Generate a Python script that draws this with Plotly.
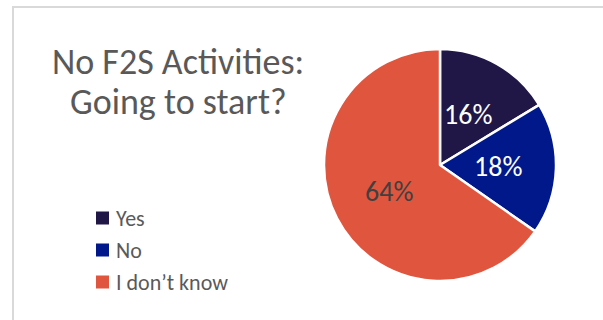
import math
import plotly.graph_objects as go

# Survey responses
labels = ["Yes", "No", "I don\u2019t know"]
values = [16, 18, 64]
colors = ["#201747", "#00188A", "#E0553E"]
label_colors = ["#FFFFFF", "#FFFFFF", "#404040"]

title_lines = ["No F2S Activities:", "Going to start?"]

W, H = 603, 320
FONT = "Calibri, Carlito, Lato, sans-serif"

fig = go.Figure()

# pie centred at (440,165) px, radius 116 px
cx, cy, r = 440, 165, 116
fig.add_trace(go.Pie(
    labels=labels,
    values=values,
    sort=False,
    direction="clockwise",
    rotation=0,
    marker=dict(colors=colors, line=dict(color="white", width=2.5)),
    textinfo="none",
    hoverinfo="label+value",
    showlegend=False,
    domain=dict(x=[(cx - r) / W, (cx + r) / W],
                y=[(H - cy - r) / H, (H - cy + r) / H]),
))

shapes = [
    # frame lines (left and top)
    dict(type="line", xref="paper", yref="paper",
         x0=13 / W, x1=13 / W, y0=0, y1=(H - 7) / H,
         line=dict(color="#D9D9D9", width=2)),
    dict(type="line", xref="paper", yref="paper",
         x0=12 / W, x1=1, y0=(H - 7) / H, y1=(H - 7) / H,
         line=dict(color="#D9D9D9", width=2)),
]

# title, one annotation per line for tight line spacing
annotations = []
for i, line in enumerate(title_lines):
    annotations.append(dict(text=line, x=178 / W, y=(H - 62 - 40 * i) / H,
                            xref="paper", yref="paper", xanchor="center", yanchor="middle",
                            showarrow=False,
                            font=dict(family=FONT, size=36, color="#595959")))

# percentage labels at half radius along each slice's mid-angle
total = sum(values)
cum = 0
for v, col in zip(values, label_colors):
    mid = (cum + v / 2) / total * 2 * math.pi
    cum += v
    px = cx + 0.5 * r * math.sin(mid)
    py = cy - 0.5 * r * math.cos(mid)
    annotations.append(dict(text=f"{v}%", x=px / W, y=(H - py) / H,
                            xref="paper", yref="paper", xanchor="center", yanchor="middle",
                            showarrow=False,
                            font=dict(family=FONT, size=28, color=col)))

# legend entries: coloured square + label
leg_x, leg_y0, leg_dy, sq = 96, 218, 32, 13
for i, (lab, col) in enumerate(zip(labels, colors)):
    yc = leg_y0 + i * leg_dy
    shapes.append(dict(type="rect", xref="paper", yref="paper",
                       x0=leg_x / W, x1=(leg_x + sq) / W,
                       y0=(H - yc - sq / 2) / H, y1=(H - yc + sq / 2) / H,
                       fillcolor=col, line=dict(width=0)))
    annotations.append(dict(text=lab, x=(leg_x + sq + 5) / W, y=(H - yc) / H,
                            xref="paper", yref="paper", xanchor="left", yanchor="middle",
                            showarrow=False,
                            font=dict(family=FONT, size=22, color="#595959")))

fig.update_layout(
    width=W, height=H,
    margin=dict(l=0, r=0, t=0, b=0),
    paper_bgcolor="white",
    plot_bgcolor="white",
    shapes=shapes,
    annotations=annotations,
)

fig.write_html("out.html")
